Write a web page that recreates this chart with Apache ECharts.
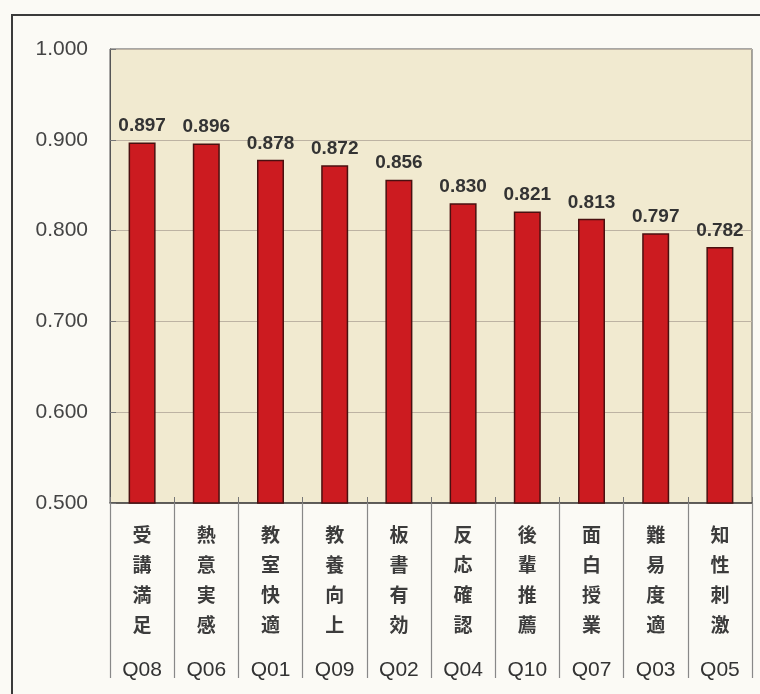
<!DOCTYPE html>
<html><head><meta charset="utf-8">
<script src="https://cdn.jsdelivr.net/npm/echarts@6/dist/echarts.min.js"></script>
<style>html,body{margin:0;padding:0;background:#fbfaf5;}#c{width:760px;height:694px;}</style>
</head><body><div id="c"></div>
<script>
var codes = ['Q08','Q06','Q01','Q09','Q02','Q04','Q10','Q07','Q03','Q05'];
var names = ['受講満足','熱意実感','教室快適','教養向上','板書有効','反応確認','後輩推薦','面白授業','難易度適','知性刺激'];
var values = [0.897,0.896,0.878,0.872,0.856,0.830,0.821,0.813,0.797,0.782];
var yTicks = [0.5,0.6,0.7,0.8,0.9,1.0];

var chart = echarts.init(document.getElementById('c'));
chart.setOption({
  backgroundColor:'#fbfaf5',
  animation:false,
  graphic:[{type:'rect',shape:{x:12,y:15,width:770,height:700},style:{fill:'none',stroke:'#3a3a3a',lineWidth:2},silent:true}],
  grid:{left:110,right:8,top:49,bottom:191,show:true,backgroundColor:'#f1ead0',borderColor:'#555',borderWidth:1},
  xAxis:[{
    type:'category',data:codes,position:'bottom',
    axisLine:{lineStyle:{color:'#444',width:1.5}},
    axisTick:{show:true,inside:true,length:6,lineStyle:{color:'#777'}},
    axisLabel:{
      margin:17,interval:0,
      formatter:function(v,i){return '{a|'+names[i].split('').join('\n')+'}\n{q|'+v+'}';},
      rich:{
        a:{fontFamily:'Noto Sans CJK JP',fontSize:19,fontWeight:'bold',lineHeight:30,color:'#3c3c3c'},
        q:{fontFamily:'Liberation Sans, Arial',fontSize:21,lineHeight:60,color:'#333'}
      }
    }
  },{
    type:'category',data:codes,position:'bottom',
    axisLine:{show:false},
    axisTick:{show:true,inside:false,length:175,lineStyle:{color:'#888',width:1.2}},
    axisLabel:{show:false}
  }],
  yAxis:{
    type:'value',min:yTicks[0],max:yTicks[yTicks.length-1],interval:0.1,
    axisLine:{show:true,lineStyle:{color:'#555'}},
    axisTick:{show:true,inside:true,length:6,lineStyle:{color:'#777'}},
    splitLine:{lineStyle:{color:'#bdb3a3',width:1}},
    axisLabel:{margin:22,fontFamily:'Liberation Sans, Arial',fontSize:21,color:'#444',
      formatter:function(v){return v.toFixed(3);}}
  },
  series:[{
    type:'bar',data:values,barWidth:27,xAxisIndex:0,
    itemStyle:{color:'#cc1b20',borderColor:'#4a1010',borderWidth:1.5},
    label:{show:true,position:'top',distance:7,fontFamily:'Liberation Sans, Arial',fontSize:19,fontWeight:'bold',color:'#333',
      formatter:function(p){return p.value.toFixed(3);}}
  }]
});
</script></body></html>
